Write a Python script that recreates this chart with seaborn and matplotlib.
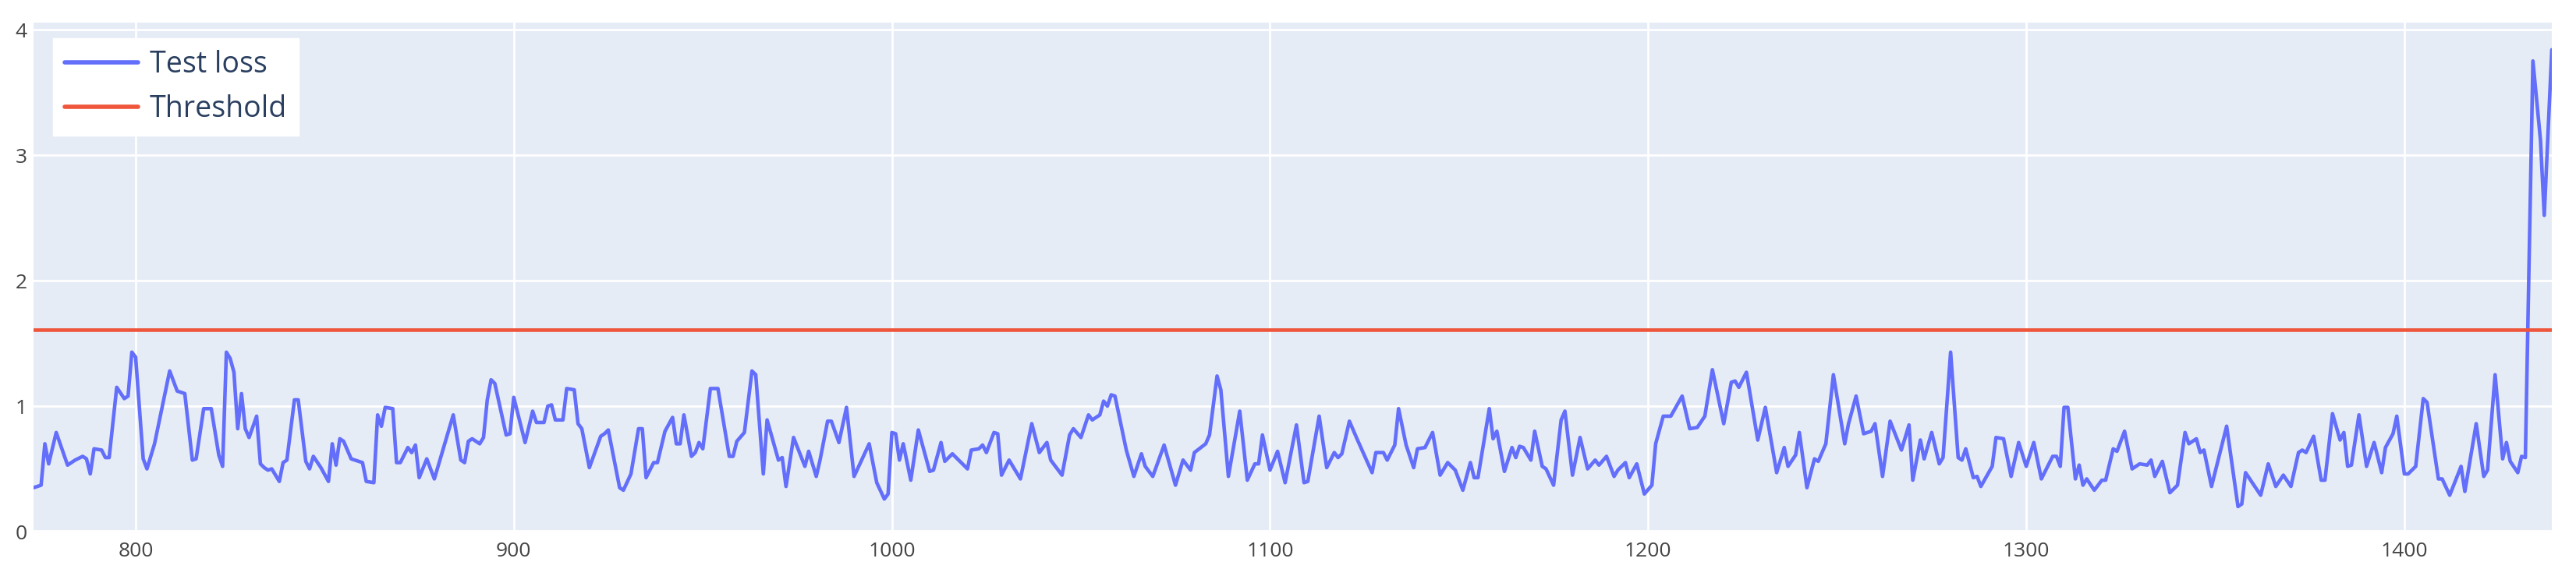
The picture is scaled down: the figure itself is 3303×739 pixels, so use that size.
import pandas as pd
import matplotlib.pyplot as plt
import seaborn as sns

# test loss (turning points of the curve)
loss_steps = [
    773, 775, 776, 777, 779, 782, 784, 786, 787, 788, 789, 791, 792, 793, 795, 797, 798, 799, 800,
    802, 803, 805, 809, 810, 811, 813, 815, 816, 818, 820, 822, 823, 824, 825, 826, 827, 828, 829,
    830, 832, 833, 834, 835, 836, 838, 839, 840, 842, 843, 845, 846, 847, 849, 851, 852, 853, 854,
    855, 857,
    860, 861, 863, 864, 865, 866, 868, 869, 870, 872, 873, 874, 875, 877, 879, 884, 886, 887, 888,
    889, 891, 892, 893, 894, 895, 898, 899, 900, 903, 905, 906, 908, 909, 910, 911, 913, 914, 916,
    917, 918, 920, 923, 924, 925, 928, 929, 931, 933, 934, 935, 937, 938, 940,
    942, 943, 944, 945, 947, 948, 949, 950, 952, 954, 957, 958, 959, 961, 963, 964, 966, 967, 970,
    971, 972, 974, 977, 978, 980, 981, 983, 984, 986, 988, 990, 994, 996, 998, 999, 1000, 1001,
    1002, 1003, 1005, 1007, 1010, 1011, 1013, 1014, 1016, 1018, 1020, 1021, 1023,
    1024, 1025, 1027, 1028, 1029, 1031, 1034, 1037, 1039, 1041, 1042, 1045, 1047, 1048, 1050,
    1052, 1053, 1055, 1056, 1057, 1058, 1059, 1062, 1064, 1066, 1067, 1069, 1072, 1075, 1077,
    1079, 1080, 1083, 1084, 1086, 1087, 1089, 1092, 1094, 1096, 1097, 1098, 1100, 1102, 1104,
    1107,
    1109, 1110, 1113, 1115, 1117, 1118, 1119, 1121, 1123, 1127, 1128, 1130, 1131, 1133, 1134,
    1136, 1138, 1139, 1141, 1143, 1145, 1147, 1149, 1151, 1153, 1154, 1155, 1158, 1159, 1160,
    1162, 1164, 1165, 1166, 1167, 1169, 1170, 1172, 1173, 1175, 1177, 1178, 1180, 1182, 1184,
    1186,
    1187, 1189, 1191, 1192, 1194, 1195, 1197, 1199, 1201, 1202, 1204, 1206, 1209, 1211, 1213,
    1215, 1217, 1220, 1222, 1223, 1224, 1226, 1229, 1231, 1234, 1236, 1237, 1239, 1240, 1242,
    1244, 1245, 1247, 1249, 1252, 1253, 1255, 1257, 1259, 1260, 1262, 1264, 1267, 1269, 1270,
    1272, 1273, 1275, 1277, 1278, 1280, 1282, 1283, 1284, 1286, 1287, 1288, 1291, 1292, 1294,
    1296, 1298, 1300, 1302, 1304, 1307, 1308, 1309, 1310, 1311, 1313, 1314, 1315, 1316, 1318,
    1320, 1321, 1323, 1324, 1326, 1328, 1330, 1332, 1333, 1334, 1336, 1338, 1340, 1342, 1343,
    1345, 1346, 1347, 1349, 1353,
    1356, 1357, 1358, 1362, 1364, 1366, 1368, 1370, 1372, 1373, 1374, 1376, 1378, 1379, 1381,
    1383, 1384, 1385, 1386, 1388, 1390, 1392, 1394, 1395, 1397, 1398, 1400, 1401, 1403, 1405,
    1406, 1409, 1410, 1412, 1415, 1416, 1419, 1421, 1422, 1424, 1426, 1427, 1428, 1430, 1431,
    1432, 1434, 1436, 1437, 1439,
]
loss_values = [
    0.35, 0.37, 0.70, 0.54, 0.79, 0.53, 0.57, 0.60, 0.58, 0.46, 0.66, 0.65, 0.59, 0.59, 1.15, 1.06, 1.08, 1.43, 1.39,
    0.58, 0.50, 0.70, 1.28, 1.20, 1.12, 1.10, 0.57, 0.58, 0.98, 0.98, 0.61, 0.52, 1.43, 1.38, 1.27, 0.82, 1.10, 0.82,
    0.75, 0.92, 0.54, 0.51, 0.49, 0.50, 0.40, 0.55, 0.57, 1.05, 1.05, 0.56, 0.50, 0.60, 0.51, 0.40, 0.70, 0.53, 0.74,
    0.72, 0.58,
    0.55, 0.40, 0.39, 0.93, 0.84, 0.99, 0.98, 0.55, 0.55, 0.67, 0.63, 0.69, 0.43, 0.58, 0.42, 0.93, 0.57, 0.55, 0.72,
    0.74, 0.70, 0.75, 1.05, 1.21, 1.18, 0.77, 0.78, 1.07, 0.71, 0.96, 0.87, 0.87, 1.00, 1.01, 0.89, 0.89, 1.14, 1.13,
    0.86, 0.82, 0.51, 0.76, 0.78, 0.81, 0.35, 0.33, 0.46, 0.82, 0.82, 0.43, 0.55, 0.55, 0.80,
    0.91, 0.70, 0.70, 0.93, 0.60, 0.63, 0.71, 0.66, 1.14, 1.14, 0.60, 0.60, 0.72, 0.79, 1.28, 1.25, 0.46, 0.89, 0.57,
    0.59, 0.36, 0.75, 0.52, 0.64, 0.44, 0.57, 0.88, 0.88, 0.71, 0.99, 0.44, 0.70, 0.39, 0.26, 0.30, 0.79, 0.78,
    0.57, 0.70, 0.41, 0.81, 0.48, 0.49, 0.71, 0.56, 0.62, 0.56, 0.50, 0.65, 0.66,
    0.69, 0.63, 0.79, 0.78, 0.45, 0.57, 0.42, 0.86, 0.63, 0.71, 0.57, 0.45, 0.77, 0.82, 0.75,
    0.93, 0.89, 0.93, 1.04, 1.00, 1.09, 1.08, 0.65, 0.44, 0.62, 0.52, 0.44, 0.69, 0.37, 0.57,
    0.49, 0.63, 0.70, 0.77, 1.24, 1.13, 0.44, 0.96, 0.41, 0.54, 0.54, 0.77, 0.49, 0.64, 0.39,
    0.85,
    0.39, 0.40, 0.92, 0.51, 0.63, 0.59, 0.62, 0.88, 0.74, 0.47, 0.63, 0.63, 0.57, 0.69, 0.98,
    0.69, 0.51, 0.66, 0.67, 0.79, 0.45, 0.55, 0.49, 0.33, 0.55, 0.43, 0.43, 0.98, 0.74, 0.80,
    0.48, 0.67, 0.59, 0.68, 0.67, 0.57, 0.80, 0.52, 0.50, 0.37, 0.89, 0.96, 0.45, 0.75, 0.50,
    0.57,
    0.53, 0.60, 0.44, 0.49, 0.55, 0.43, 0.54, 0.30, 0.37, 0.70, 0.92, 0.92, 1.08, 0.82, 0.83,
    0.92, 1.29, 0.86, 1.19, 1.20, 1.15, 1.27, 0.73, 0.99, 0.47, 0.67, 0.52, 0.61, 0.79, 0.35,
    0.58, 0.56, 0.70, 1.25, 0.70, 0.86, 1.08, 0.78, 0.80, 0.86, 0.44, 0.88, 0.65, 0.85, 0.41,
    0.73, 0.58, 0.79, 0.54, 0.59, 1.43, 0.59, 0.57, 0.66, 0.43, 0.44, 0.36, 0.52, 0.75, 0.74,
    0.44, 0.71, 0.52, 0.71, 0.42, 0.60, 0.60, 0.52, 0.99, 0.99, 0.42, 0.53, 0.37, 0.42, 0.33,
    0.41, 0.41, 0.66, 0.64, 0.80, 0.50, 0.54, 0.53, 0.57, 0.44, 0.56, 0.31, 0.37, 0.79, 0.70,
    0.74, 0.63, 0.65, 0.36, 0.84,
    0.20, 0.22, 0.47, 0.29, 0.54, 0.36, 0.45, 0.36, 0.63, 0.65, 0.63, 0.76, 0.41, 0.41, 0.94,
    0.73, 0.79, 0.52, 0.53, 0.93, 0.52, 0.71, 0.47, 0.67, 0.78, 0.92, 0.46, 0.46, 0.52, 1.06,
    1.03, 0.42, 0.42, 0.29, 0.52, 0.32, 0.86, 0.44, 0.49, 1.25, 0.58, 0.71, 0.56, 0.47, 0.60,
    0.59, 3.75, 3.12, 2.52, 3.84,
]
threshold = 1.61

x_ticks = [800, 900, 1000, 1100, 1200, 1300, 1400]
y_ticks = [0, 1, 2, 3, 4]

W, H = 3303, 739

sns.set_theme(style="darkgrid", rc={
    "axes.facecolor": "#E5ECF6",
    "figure.facecolor": "white",
    "grid.color": "white",
    "grid.linewidth": 2.0,
})
plt.rcParams["font.family"] = ["Open Sans", "DejaVu Sans"]

df = pd.DataFrame({"step": loss_steps, "loss": loss_values})

fig, ax = plt.subplots(figsize=(W / 100, H / 100), dpi=100)
fig.subplots_adjust(left=43 / W, right=3272 / W, top=1 - 29 / H, bottom=1 - 684 / H)

ax.axhline(0, color="white", linewidth=2.8, zorder=1)
sns.lineplot(data=df, x="step", y="loss", ax=ax, color="#636EFA",
             linewidth=3.3, label="Test loss", zorder=3)
ax.axhline(threshold, color="#EF553B", linewidth=3.3, label="Threshold", zorder=3)

ax.set_xlim(min(loss_steps), max(loss_steps))
ax.set_ylim(-0.012, 4.056)
ax.set_xticks(x_ticks)
ax.set_yticks(y_ticks)
ax.set_xlabel("")
ax.set_ylabel("")
ax.tick_params(length=0, labelsize=19, colors="#444444")
ax.tick_params(axis="x", pad=8)
ax.tick_params(axis="y", pad=6)
for s in ax.spines.values():
    s.set_visible(False)

leg = ax.legend(loc="upper left", bbox_to_anchor=(68 / W, 1 - 49 / H),
                bbox_transform=fig.transFigure, borderaxespad=0,
                fontsize=27, frameon=True, fancybox=False,
                handlelength=2.5, handletextpad=0.4, labelspacing=0.5,
                borderpad=0.4)
leg.get_frame().set_facecolor("white")
leg.get_frame().set_edgecolor("white")
leg.get_frame().set_alpha(1)
for line in leg.get_lines():
    line.set_linewidth(4.0)
for t in leg.get_texts():
    t.set_color("#2a3f5f")

fig.savefig("out.png", dpi=100)
